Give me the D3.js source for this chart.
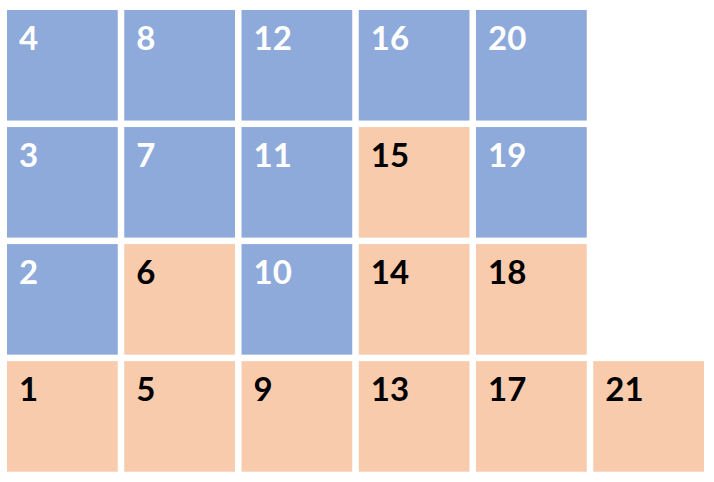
<!DOCTYPE html>
<html>
<head>
<meta charset="utf-8">
<script src="https://cdn.jsdelivr.net/npm/d3@7"></script>
<style>
  html, body { margin: 0; padding: 0; background: #ffffff; }
  svg { display: block; }
</style>
</head>
<body>
<svg id="chart" width="714" height="482"></svg>
<script>
// Cell labels, column index, row index (0 = bottom) and group of each cell
const cellLabels  = [1, 2, 3, 4, 5, 6, 7, 8, 9, 10, 11, 12, 13, 14, 15, 16, 17, 18, 19, 20, 21];
const cellColumns = [0, 0, 0, 0, 1, 1, 1, 1, 2, 2, 2, 2, 3, 3, 3, 3, 4, 4, 4, 4, 5];
const cellRows    = [0, 1, 2, 3, 0, 1, 2, 3, 0, 1, 2, 3, 0, 1, 2, 3, 0, 1, 2, 3, 0];
const cellGroups  = ["A","B","B","B","A","A","B","B","A","B","B","B","A","A","A","B","A","A","B","B","A"];

const columnsDomain = [0, 1, 2, 3, 4, 5];
const rowsDomain = [3, 2, 1, 0];
const groupNames = ["A", "B"];

const cells = cellLabels.map((d, i) => ({
  label: d, col: cellColumns[i], row: cellRows[i], group: cellGroups[i]
}));

const svg = d3.select("#chart");

const x = d3.scaleBand().domain(columnsDomain).range([7, 704]).paddingInner(0.0555).paddingOuter(0);
const y = d3.scaleBand().domain(rowsDomain).range([10, 471.7]).paddingInner(0.0555).paddingOuter(0);
const fill = d3.scaleOrdinal().domain(groupNames).range(["#f8cbad", "#8eaadb"]);
const textFill = d3.scaleOrdinal().domain(groupNames).range(["#000000", "#ffffff"]);

const g = svg.append("g");

const cell = g.selectAll("g.cell").data(cells).join("g")
  .attr("class", "cell")
  .attr("transform", d => `translate(${x(d.col)},${y(d.row)})`);

cell.append("rect")
  .attr("width", x.bandwidth())
  .attr("height", y.bandwidth())
  .attr("fill", d => fill(d.group));

cell.append("text")
  .attr("x", 12)
  .attr("y", 39.5)
  .attr("font-family", "Lato, 'Open Sans', sans-serif")
  .attr("font-weight", 700)
  .attr("font-size", 33)
  .attr("fill", d => textFill(d.group))
  .text(d => d.label);
</script>
</body>
</html>
